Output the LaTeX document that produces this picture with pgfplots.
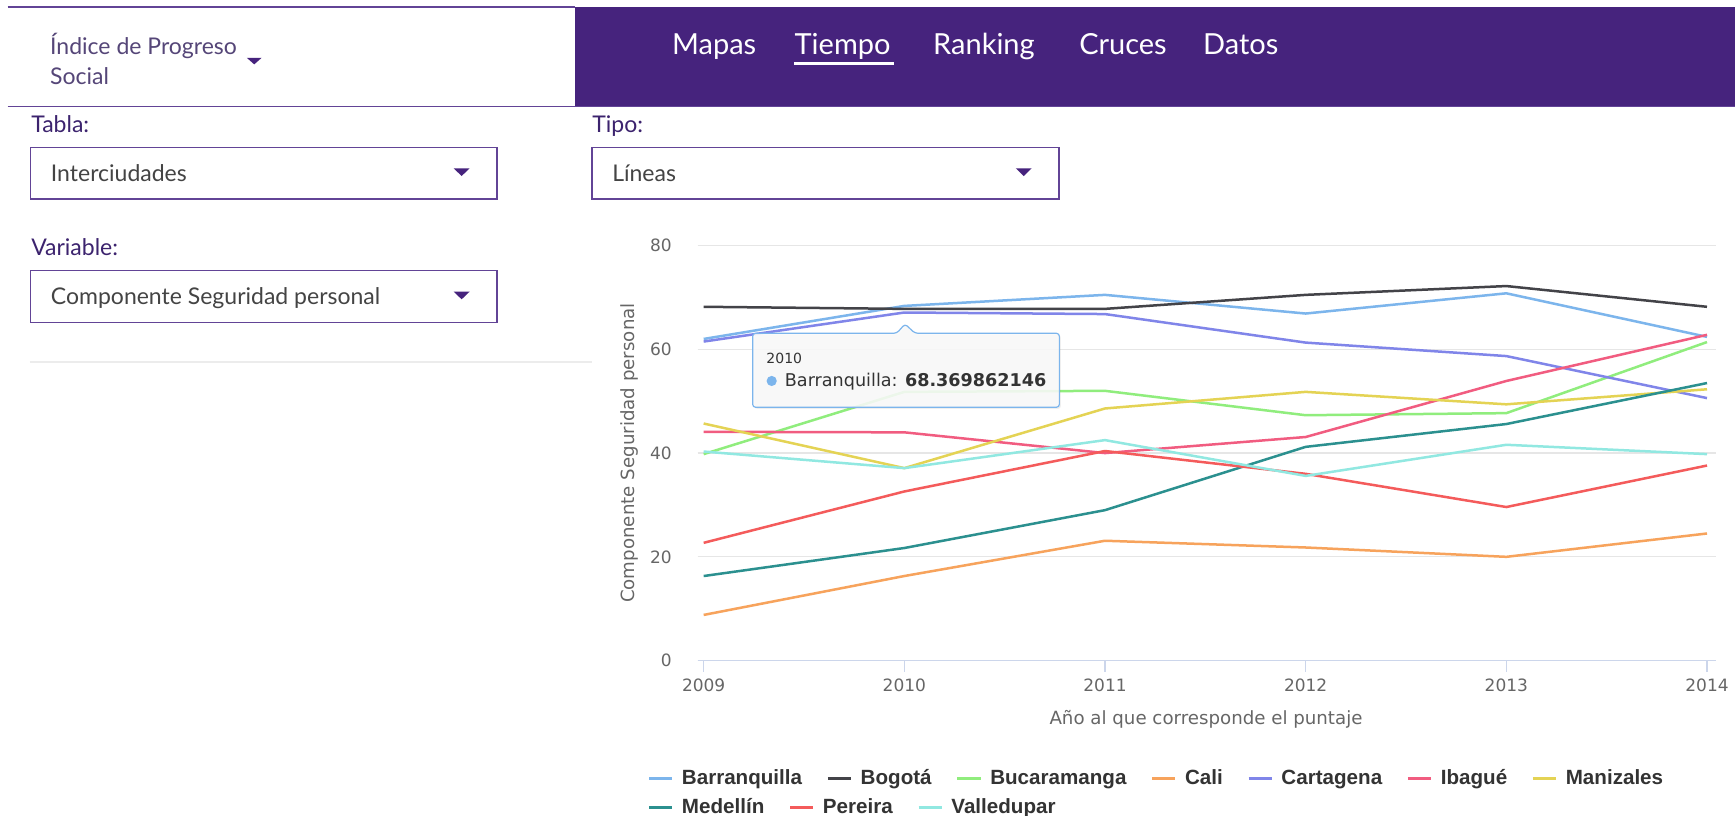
\documentclass[border=0pt]{standalone}
\usepackage{fontspec}
\setmainfont{Lato}
\newfontfamily\djv{DejaVu Sans}
\newfontfamily\lib{Liberation Sans}
\usepackage{pgfplots}
\usepackage{pgfplotstable}
\pgfplotsset{compat=1.18}
\usetikzlibrary{shadows}

\definecolor{hdr}{RGB}{70,35,125}
\definecolor{bord}{RGB}{98,68,150}
\definecolor{lbl}{RGB}{60,35,110}
\definecolor{uitext}{RGB}{68,68,68}
\definecolor{ttl}{RGB}{85,70,120}
\definecolor{tickc}{HTML}{666666}
\definecolor{gridc}{HTML}{E6E6E6}
\definecolor{axisc}{HTML}{CCD6EB}
\definecolor{legc}{HTML}{333333}
\definecolor{tipfill}{RGB}{250,250,250}
% highcharts palette
\definecolor{c1}{HTML}{7CB5EC}
\definecolor{c2}{HTML}{434348}
\definecolor{c3}{HTML}{90ED7D}
\definecolor{c4}{HTML}{F7A35C}
\definecolor{c5}{HTML}{8085E9}
\definecolor{c6}{HTML}{F15C80}
\definecolor{c7}{HTML}{E4D354}
\definecolor{c8}{HTML}{2B908F}
\definecolor{c9}{HTML}{F45B5B}
\definecolor{c10}{HTML}{91E8E1}

% Componente Seguridad personal, by year
\pgfplotstableread{
year Barranquilla Bogota Bucaramanga Cali Cartagena Ibague Manizales Medellin Pereira Valledupar
2009 62.0  68.2 39.8  8.8 61.5 44.1 45.7 16.3 22.7 40.3
2010 68.37 67.8 51.8 16.3 67.1 44.0 37.1 21.7 32.6 37.1
2011 70.5  67.8 52.0 23.1 66.8 40.0 48.6 29.0 40.4 42.5
2012 66.9  70.5 47.3 21.8 61.3 43.1 51.8 41.2 36.0 35.6
2013 70.8  72.2 47.7 20.0 58.7 53.9 49.4 45.6 29.6 41.6
2014 62.4  68.2 61.4 24.5 50.6 62.8 52.3 53.5 37.6 39.8
}\datatable

\pgfplotsset{
  chartbox/.style={
    at={(348.82pt,-330.29pt)}, anchor=south west,
    scale only axis, width=509.4pt, height=207.5pt,
    xmin=2008.97, xmax=2014.047, ymin=0, ymax=80,
    legend image code/.code={\draw[##1, line width=1.7pt] (0pt,0pt) -- (11.6pt,0pt);},
    legend cell align=left,
    legend style={anchor=north west,
      draw=none, fill=none, inner sep=0pt, outer sep=0pt,
      font=\lib\bfseries\fontsize{10.3}{12}\selectfont, text=legc,
      nodes={inner sep=1pt},
      /tikz/every odd column/.append style={column sep=3pt},
      /tikz/every even column/.append style={column sep=11pt}},
  },
}

\begin{document}
\begin{tikzpicture}
% page frame and dashboard controls, in screen pixels
\begin{scope}[x=0.55325pt,y=-0.55325pt]
\fill[white] (0,0) rectangle (1568,737);
\fill[hdr] (520,6) rectangle (1568,96.4);
\draw[bord, line width=0.8pt] (7,6.3) -- (520,6.3);
\draw[bord, line width=0.8pt] (7,96.4) -- (1568,96.4);
\begin{scope}[every node/.style={anchor=base west, inner sep=0pt}]
\node[text=white, font=\fontsize{14.5}{16}\selectfont] at (607,49) {Mapas};
\node[text=white, font=\fontsize{14.5}{16}\selectfont] at (717.8,49) {Tiempo};
\node[text=white, font=\fontsize{14.5}{16}\selectfont] at (843,49) {Ranking};
\node[text=white, font=\fontsize{14.5}{16}\selectfont] at (975,49) {Cruces};
\node[text=white, font=\fontsize{14.5}{16}\selectfont] at (1087,49) {Datos};
\node[text=ttl, font=\fontsize{11.5}{13}\selectfont] at (45,49) {Índice de Progreso};
\node[text=ttl, font=\fontsize{11.5}{13}\selectfont] at (45,76.5) {Social};
\node[text=lbl, font=\fontsize{11.5}{13}\selectfont] at (27.9,120) {Tabla:};
\node[text=lbl, font=\fontsize{11.5}{13}\selectfont] at (535,120) {Tipo:};
\node[text=lbl, font=\fontsize{11.5}{13}\selectfont] at (27.9,231) {Variable:};
\node[text=uitext, font=\fontsize{11.5}{13}\selectfont] at (45.7,164.2) {Interciudades};
\node[text=uitext, font=\fontsize{11.5}{13}\selectfont] at (553,164.2) {Líneas};
\node[text=uitext, font=\fontsize{11.5}{13}\selectfont] at (45.7,275.6) {Componente Seguridad personal};
\end{scope}
\fill[white] (717.8,56) rectangle (808,58.4);
\fill[hdr] (223,52.2) -- (236.5,52.2) -- (229.75,58.2) -- cycle;
\draw[bord, line width=0.8pt] (27.5,133.2) rectangle (449,180.1);
\draw[bord, line width=0.8pt] (535,133.2) rectangle (957,180.1);
\draw[bord, line width=0.8pt] (27.5,244.6) rectangle (449,291.6);
\fill[hdr] (410,152.1) -- (424.4,152.1) -- (417.2,159.1) -- cycle;
\fill[hdr] (918,152.1) -- (932.4,152.1) -- (925.2,159.1) -- cycle;
\fill[hdr] (410,263.6) -- (424.4,263.6) -- (417.2,270.5) -- cycle;
\draw[gray!15, line width=1pt] (27,327) -- (535,327);
\end{scope}

\begin{axis}[
  chartbox,
  xtick={2009,2010,2011,2012,2013,2014},
  xticklabels={2009,2010,2011,2012,2013,2014},
  ytick={0,20,40,60,80},
  axis x line*=bottom, axis y line*=left,
  x axis line style={draw=axisc, line width=0.6pt, -},
  y axis line style={draw=none},
  ytick style={draw=none},
  xtick style={draw=axisc, line width=0.6pt},
  tick align=outside, major tick length=5.5pt,
  ymajorgrids, grid style={draw=gridc, line width=0.6pt},
  ticklabel style={font=\djv\fontsize{8.5}{10}\selectfont, text=tickc},
  /pgf/number format/assume math mode=true,
  yticklabel style={xshift=-4pt},
  xlabel={Año al que corresponde el puntaje},
  ylabel={Componente Seguridad personal},
  label style={font=\djv\fontsize{9.1}{11}\selectfont, text=tickc},
  xlabel style={at={(axis description cs:0.499,-0.1412)}, anchor=center},
  ylabel style={at={(axis description cs:-0.0667,0.5)}, anchor=center},
  every axis plot/.append style={line width=1.25pt, line join=round},
  legend columns=7,
  legend style={at={(axis description cs:-0.0494,-0.258)}},
]
\addplot[c1] table[x=year, y=Barranquilla]{\datatable};
\addplot[c2] table[x=year, y=Bogota]{\datatable};
\addplot[c3] table[x=year, y=Bucaramanga]{\datatable};
\addplot[c4] table[x=year, y=Cali]{\datatable};
\addplot[c5] table[x=year, y=Cartagena]{\datatable};
\addplot[c6] table[x=year, y=Ibague]{\datatable};
\addplot[c7] table[x=year, y=Manizales]{\datatable};
\addplot[c8] table[x=year, y=Medellin]{\datatable};
\addplot[c9] table[x=year, y=Pereira]{\datatable};
\addplot[c10] table[x=year, y=Valledupar]{\datatable};
\legend{Barranquilla, Bogotá, Bucaramanga, Cali, Cartagena, Ibagué, Manizales}
\end{axis}

% second legend row, laid out on its own like the web legend
\begin{axis}[
  chartbox, hide axis,
  legend columns=3,
  legend style={at={(axis description cs:-0.0494,-0.3275)}},
]
\addlegendimage{c8}
\addlegendentry{Medellín}
\addlegendimage{c9}
\addlegendentry{Pereira}
\addlegendimage{c10}
\addlegendentry{Valledupar}
\end{axis}

% hover tooltip on Barranquilla 2010
\begin{scope}[x=0.55325pt,y=-0.55325pt]
\draw[draw=c1, line width=0.6pt, fill=tipfill, fill opacity=0.88, rounded corners=1.5pt,
  drop shadow={opacity=0.12, shadow xshift=0.8pt, shadow yshift=-0.8pt}]
  (680.2,301.2) -- (810.4,301.2) -- (817.9,292.8) -- (826.9,301.2) -- (957.4,301.2)
  -- (957.4,368.1) -- (680.2,368.1) -- cycle;
\node[anchor=base west, inner sep=0pt, text=legc, font=\djv\fontsize{7}{8}\selectfont] at (692.3,328.4) {2010};
\fill[c1] (697.4,344.3) circle (4.6);
\node[anchor=base west, inner sep=0pt, text=legc, font=\djv\fontsize{8.8}{10}\selectfont] at (709,349.5) {Barranquilla: \textbf{68.369862146}};
\pgfresetboundingbox
\path[use as bounding box] (0,0) rectangle (1568,737);
\end{scope}
\end{tikzpicture}
\end{document}
